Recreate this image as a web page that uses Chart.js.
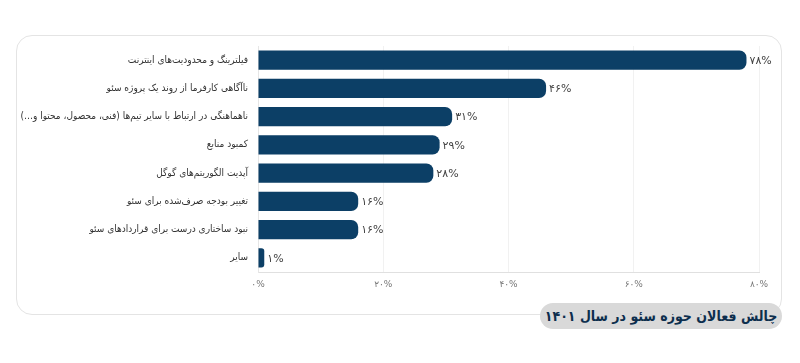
<!DOCTYPE html>
<html lang="fa">
<head>
<meta charset="utf-8">
<script src="https://cdn.jsdelivr.net/npm/chart.js@4.4.1/dist/chart.umd.min.js"></script>
<style>
  html, body { margin: 0; padding: 0; background: #fff; }
  #wrap { position: relative; width: 800px; height: 363px; overflow: hidden; }
  #card {
    position: absolute; left: 16px; top: 35px; width: 766px; height: 280px;
    box-sizing: border-box; border: 1px solid #e4e4e4; border-radius: 16px;
  }
  #chart { position: absolute; left: 0; top: 0; direction: rtl; }
  #badge {
    position: absolute; left: 540px; top: 303px; width: 242px; height: 26px;
    background: #d9d9d9; border-radius: 13px; box-sizing: border-box;
    direction: rtl; text-align: center;
    font: bold 14px "DejaVu Sans Condensed", sans-serif; color: #0d2e4d; line-height: 26px;
    white-space: nowrap;
  }
</style>
</head>
<body>
<div id="wrap">
  <div id="card"></div>
  <canvas id="chart" width="800" height="363"></canvas>
  <div id="badge">چالش فعالان حوزه سئو در سال ۱۴۰۱</div>
</div>
<script>
// chart data
const categories = [
  'فیلترینگ و محدودیت‌های اینترنت',
  'ناآگاهی کارفرما از روند یک پروژه سئو',
  'ناهماهنگی در ارتباط با سایر تیم‌ها (فنی، محصول، محتوا و…)',
  'کمبود منابع',
  'آپدیت الگوریتم‌های گوگل',
  'تغییر بودجه صرف‌شده برای سئو',
  'نبود ساختاری درست برای قراردادهای سئو',
  'سایر',
];
const values = [78, 46, 31, 29, 28, 16, 16, 1];
const xTicks = [0, 20, 40, 60, 80];

const faDigits = n => String(n).replace(/\d/g, d => '۰۱۲۳۴۵۶۷۸۹'[d]);

const ctx = document.getElementById('chart');

const valueLabels = {
  id: 'valueLabels',
  afterDatasetsDraw(chart) {
    const c = chart.ctx;
    const meta = chart.getDatasetMeta(0);
    c.save();
    c.font = '11px "DejaVu Sans", sans-serif';
    c.fillStyle = '#444';
    c.textAlign = 'left';
    c.textBaseline = 'middle';
    c.direction = 'ltr';
    meta.data.forEach((bar, i) => {
      c.fillText(faDigits(values[i]) + '%', bar.x + 3, bar.y + 1);
    });
    c.restore();
  },
};

new Chart(ctx, {
  type: 'bar',
  data: {
    labels: categories,
    datasets: [{
      data: values,
      backgroundColor: '#0c3f66',
      borderRadius: 7,
      borderSkipped: 'start',
      barPercentage: 0.68,
      categoryPercentage: 1,
    }],
  },
  options: {
    indexAxis: 'y',
    responsive: false,
    animation: false,
    layout: {
      padding: { top: 46, left: 18, right: 41, bottom: 71 },
    },
    plugins: {
      legend: { display: false },
      tooltip: { enabled: false },
    },
    scales: {
      x: {
        min: 0,
        max: 80,
        afterBuildTicks: s => { s.ticks = xTicks.map(v => ({ value: v })); },
        afterFit: s => { s.height = 20; },
        grid: { color: '#f1f1f1', drawTicks: false },
        border: { color: '#e0e0e0' },
        ticks: {
          padding: 7,
          color: '#777',
          font: { family: 'DejaVu Sans', size: 9 },
          callback: v => faDigits(v) + '%',
        },
      },
      y: {
        afterFit: s => { s.width = 240; },
        grid: { display: false, drawTicks: false },
        border: { color: '#e6e6e6' },
        ticks: {
          padding: 10,
          color: '#333',
          font: { family: 'DejaVu Sans Condensed', size: 10 },
        },
      },
    },
  },
  plugins: [valueLabels],
});
</script>
</body>
</html>
